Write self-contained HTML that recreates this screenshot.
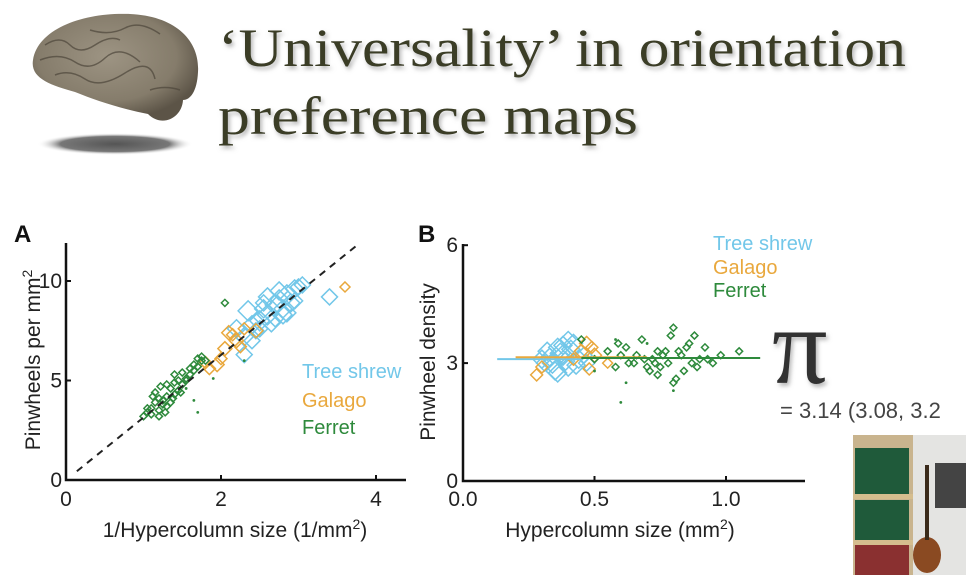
<!DOCTYPE html>
<html><head><meta charset="utf-8">
<style>
html,body{margin:0;padding:0;background:#fff;}
svg{display:block;}
text{font-family:"Liberation Sans",sans-serif;}
</style></head>
<body>
<svg id="s" width="966" height="575" viewBox="0 0 966 575" xmlns="http://www.w3.org/2000/svg">
<defs>
<radialGradient id="brainG" cx="0.45" cy="0.4" r="0.6">
<stop offset="0" stop-color="#9d9483"/><stop offset="0.7" stop-color="#857c6b"/><stop offset="1" stop-color="#5c5447"/></radialGradient>
<radialGradient id="shadowG" cx="0.5" cy="0.5" r="0.5">
<stop offset="0" stop-color="#555"/><stop offset="0.7" stop-color="#777"/><stop offset="1" stop-color="#fff" stop-opacity="0"/></radialGradient>
<filter id="ts"><feDropShadow dx="2" dy="3" stdDeviation="2" flood-color="#888" flood-opacity="0.6"/></filter>
</defs>
<g>
<ellipse cx="115" cy="144" rx="78" ry="11" fill="url(#shadowG)"/>
<path d="M33,60 C38,28 85,12 130,14 C175,16 200,40 198,72 C197,92 190,100 183,100 C182,118 162,128 148,114 C118,108 95,100 75,92 C50,85 30,78 33,60Z" fill="url(#brainG)"/>
<path d="M45,45 q15,-10 25,0 t25,0 t25,-5 M40,60 q20,-8 35,2 t30,-4 t35,4 M55,75 q15,-6 30,4 t40,-6 t30,6 M90,30 q20,6 35,-2 t35,6 M150,90 q15,-5 30,0" stroke="#4d463a" stroke-width="1.5" fill="none" opacity="0.7"/>
</g>
<g filter="url(#ts)" fill="#3a3d25" font-size="54">
<text x="218" y="66" textLength="688" lengthAdjust="spacingAndGlyphs" style="font-family:'Liberation Serif',serif">‘Universality’ in orientation</text>
<text x="218" y="134" textLength="420" lengthAdjust="spacingAndGlyphs" style="font-family:'Liberation Serif',serif">preference maps</text>
</g>
<g id="chartA"></g>
<g id="chartB"></g>
<g>
<text x="772" y="383" font-size="110" fill="#333" filter="url(#ts)" style="font-family:'Liberation Serif',serif">π</text>
<text x="780" y="418" font-size="22" fill="#444">= 3.14 (3.08, 3.2</text>
</g>
<g>
<rect x="853" y="435" width="113" height="140" fill="#e4e4e2"/>
<rect x="853" y="435" width="60" height="140" fill="#c9b48e"/>
<rect x="855" y="448" width="54" height="46" fill="#1f5a3a"/>
<rect x="855" y="500" width="54" height="40" fill="#1f5a3a"/>
<rect x="853" y="494" width="60" height="5" fill="#d5bd8e"/>
<rect x="853" y="540" width="60" height="5" fill="#d5bd8e"/>
<rect x="855" y="545" width="54" height="30" fill="#8a3030"/>
<rect x="935" y="463" width="31" height="45" fill="#444"/>
<ellipse cx="927" cy="555" rx="14" ry="18" fill="#8a4a22"/>
<rect x="925" y="465" width="4" height="75" fill="#3a2a1a"/>
</g>
</svg>
<script>
// Chart A data (x: 1/hypercolumn size, y: pinwheels per mm2)
const treeshrewAX=[2.2,2.3,2.35,2.4,2.45,2.5,2.55,2.6,2.65,2.7,2.75,2.8,2.85,2.9,2.95,3.0,2.6,2.7,2.5,2.4,2.85,3.05,2.3,2.75,3.4,2.55,2.95,2.8];
const treeshrewAY=[7.6,7.2,8.5,7.8,7.5,8.0,8.6,8.3,7.9,8.8,9.1,8.6,9.3,8.9,9.6,9.7,9.2,8.1,7.6,7.0,8.4,9.8,6.3,9.5,9.2,8.9,9.0,8.3];
const treeshrewAS=[9,9,10,9,8,10,9,10,9,10,9,9,10,9,9,8,9,8,8,8,9,8,8,9,8,8,8,9];
const galagoAX=[1.95,2.05,2.1,2.2,2.3,2.0,1.8,2.45,2.15,3.6,1.85,2.25];
const galagoAY=[5.8,6.6,7.4,7.0,7.6,6.1,5.9,7.5,7.3,9.7,5.6,6.7];
const galagoAS=[7,7,7,7,6,6,6,7,6,5,6,6];
const ferretAX=[1.0,1.05,1.1,1.15,1.2,1.25,1.3,1.35,1.4,1.45,1.5,1.55,1.6,1.65,1.7,1.75,1.1,1.2,1.3,1.4,1.5,1.6,1.7,1.15,1.25,1.35,1.45,1.55,1.05,1.2,1.3,1.4,1.75,1.65,1.28,1.38,1.48,1.22,1.12,1.8,2.05];
const ferretAY=[3.2,3.4,3.6,3.9,4.1,3.8,4.2,4.6,4.9,5.0,5.4,5.1,5.6,5.8,6.1,6.0,3.3,3.5,3.7,4.3,4.8,5.3,5.7,4.4,4.0,3.9,4.5,5.0,3.6,3.2,4.8,5.3,6.2,5.5,3.4,4.1,4.4,4.7,4.2,6.0,8.9];
const ferretDotX=[1.65,1.7,1.55,2.3,1.9,1.45];
const ferretDotY=[4.0,3.4,4.6,6.0,5.1,4.4];
const xTicksA=[0,2,4];
const yTicksA=[0,5,10];
const fitA=[0.14,3.78];

// Chart B data (x: hypercolumn size, y: pinwheel density)
const treeshrewBX=[0.3,0.32,0.34,0.36,0.38,0.4,0.42,0.44,0.35,0.37,0.39,0.41,0.33,0.43,0.46,0.38,0.36,0.31,0.47,0.4];
const treeshrewBY=[3.1,3.3,3.0,3.4,3.2,2.9,3.5,3.1,2.8,3.25,3.05,3.35,3.15,2.95,3.2,3.45,2.75,3.0,3.0,3.6];
const treeshrewBS=[9,9,10,9,10,9,9,9,9,10,9,9,9,9,8,9,9,8,8,8];
const galagoBX=[0.28,0.3,0.45,0.47,0.5,0.48,0.42,0.55,0.49];
const galagoBY=[2.7,2.9,3.3,3.5,3.2,2.85,3.1,3.0,3.4];
const galagoBS=[6,6,7,7,7,6,6,5,6];
const ferretBX=[0.45,0.5,0.55,0.58,0.6,0.62,0.65,0.68,0.7,0.72,0.74,0.76,0.78,0.8,0.82,0.84,0.86,0.88,0.9,0.92,0.95,0.98,1.05,0.66,0.71,0.73,0.77,0.81,0.83,0.87,0.69,0.75,0.79,0.85,0.63,0.59,0.89,0.93,0.74,0.8];
const ferretBY=[3.6,3.1,3.3,2.9,3.2,3.4,3.0,3.6,2.9,3.1,2.7,3.2,3.0,3.9,3.3,2.8,3.5,3.7,3.1,3.4,3.0,3.2,3.3,3.2,2.8,3.0,3.3,2.6,3.2,3.0,3.1,2.9,3.7,3.4,3.0,3.5,2.9,3.1,3.3,2.5];
const ferretDotBX=[0.6,0.62,0.58,0.8,0.7,0.5];
const ferretDotBY=[2.0,2.5,3.6,2.3,3.5,2.8];
const xTicksB=[0.0,0.5,1.0];
const yTicksB=[0,3,6];
const fitTreeshrewB=[0.13,0.45,3.1];
const fitGalagoB=[0.2,0.7,3.15];
const fitFerretB=[0.45,1.13,3.13];

const NS='http://www.w3.org/2000/svg';
const C_TS='#72c7e9', C_GA='#e9a83d', C_FE='#2e8a3c';
function mk(parent,tag,attrs){const e=document.createElementNS(NS,tag);for(const k in attrs)e.setAttribute(k,attrs[k]);parent.appendChild(e);return e;}

// Chart A scales
const ax=v=>66+v*77.5, ay=v=>480-v*19.9;
const gA=document.getElementById('chartA');
function diamond(g,cx,cy,r,col,w){return mk(g,'path',{d:`M${cx},${cy-r}L${cx+r},${cy}L${cx},${cy+r}L${cx-r},${cy}Z`,fill:'none',stroke:col,'stroke-width':w});}

let t=mk(gA,'text',{x:14,y:242,'font-size':24,'font-weight':'bold',fill:'#111'});t.textContent='A';


let l=mk(gA,'path',{d:'M66,243V480H406',stroke:'#111','stroke-width':2.5,fill:'none'});


xTicksA.forEach(v=>{const x=ax(v);mk(gA,'line',{x1:x,x2:x,y1:480,y2:475,stroke:'#111','stroke-width':2});const tt=mk(gA,'text',{x:x,y:506,'font-size':21,'text-anchor':'middle',fill:'#222'});tt.textContent=v;

});
yTicksA.forEach(v=>{const y=ay(v);mk(gA,'line',{x1:66,x2:71,y1:y,y2:y,stroke:'#111','stroke-width':2});const tt=mk(gA,'text',{x:62,y:y+7,'font-size':21,'text-anchor':'end',fill:'#222'});tt.textContent=v;

});
t=mk(gA,'text',{x:235,y:537,'font-size':21,'text-anchor':'middle',fill:'#222'});t.innerHTML='1/Hypercolumn size (1/mm<tspan dy="-8" font-size="14">2</tspan><tspan dy="8">)</tspan>';


t=mk(gA,'text',{x:0,y:0,'font-size':21,'text-anchor':'middle',fill:'#222',transform:'translate(40,360) rotate(-90)'});t.innerHTML='Pinwheels per mm<tspan dy="-8" font-size="14">2</tspan>';


treeshrewAX.forEach((x,i)=>{const d=diamond(gA,ax(x),ay(treeshrewAY[i]),treeshrewAS[i],C_TS,1.5);

});
galagoAX.forEach((x,i)=>{const d=diamond(gA,ax(x),ay(galagoAY[i]),galagoAS[i],C_GA,1.5);

});
ferretAX.forEach((x,i)=>{const d=diamond(gA,ax(x),ay(ferretAY[i]),3.5,C_FE,1.5);

});
ferretDotX.forEach((x,i)=>{const d=mk(gA,'circle',{cx:ax(x),cy:ay(ferretDotY[i]),r:1.4,fill:C_FE});

});
l=mk(gA,'line',{x1:ax(fitA[0]),y1:ay(fitA[0]*Math.PI),x2:ax(fitA[1]),y2:ay(fitA[1]*Math.PI),stroke:'#222','stroke-width':2,'stroke-dasharray':'7,6'});


[['Tree shrew',C_TS,378],['Galago',C_GA,407],['Ferret',C_FE,434]].forEach(([n,c,y])=>{const tt=mk(gA,'text',{x:302,y:y,'font-size':20,fill:c});tt.textContent=n;

});

// Chart B scales
const bx=v=>463+v*263, by=v=>481-v*39.3;
const gB=document.getElementById('chartB');
t=mk(gB,'text',{x:418,y:242,'font-size':24,'font-weight':'bold',fill:'#111'});t.textContent='B';


l=mk(gB,'path',{d:'M463,244V481H805',stroke:'#111','stroke-width':2.5,fill:'none'});


xTicksB.forEach(v=>{const x=bx(v);mk(gB,'line',{x1:x,x2:x,y1:481,y2:476,stroke:'#111','stroke-width':2});const tt=mk(gB,'text',{x:x,y:506,'font-size':21,'text-anchor':'middle',fill:'#222'});tt.textContent=v.toFixed(1);

});
yTicksB.forEach(v=>{const y=by(v);mk(gB,'line',{x1:463,x2:468,y1:y,y2:y,stroke:'#111','stroke-width':2});const tt=mk(gB,'text',{x:458,y:y+7,'font-size':21,'text-anchor':'end',fill:'#222'});tt.textContent=v;

});
t=mk(gB,'text',{x:620,y:537,'font-size':21,'text-anchor':'middle',fill:'#222'});t.innerHTML='Hypercolumn size (mm<tspan dy="-8" font-size="14">2</tspan><tspan dy="8">)</tspan>';


t=mk(gB,'text',{x:0,y:0,'font-size':21,'text-anchor':'middle',fill:'#222',transform:'translate(435,362) rotate(-90)'});t.textContent='Pinwheel density';


treeshrewBX.forEach((x,i)=>{const d=diamond(gB,bx(x),by(treeshrewBY[i]),treeshrewBS[i],C_TS,1.5);

});
galagoBX.forEach((x,i)=>{const d=diamond(gB,bx(x),by(galagoBY[i]),galagoBS[i],C_GA,1.5);

});
ferretBX.forEach((x,i)=>{const d=diamond(gB,bx(x),by(ferretBY[i]),3.5,C_FE,1.5);

});
ferretDotBX.forEach((x,i)=>{const d=mk(gB,'circle',{cx:bx(x),cy:by(ferretDotBY[i]),r:1.4,fill:C_FE});

});
[[fitTreeshrewB,C_TS],[fitGalagoB,C_GA],[fitFerretB,C_FE]].forEach(([f,c])=>{const ln=mk(gB,'line',{x1:bx(f[0]),x2:bx(f[1]),y1:by(f[2]),y2:by(f[2]),stroke:c,'stroke-width':2});

});
[['Tree shrew',C_TS,250],['Galago',C_GA,274],['Ferret',C_FE,297]].forEach(([n,c,y])=>{const tt=mk(gB,'text',{x:713,y:y,'font-size':20,fill:c});tt.textContent=n;

});
</script>
</body></html>
